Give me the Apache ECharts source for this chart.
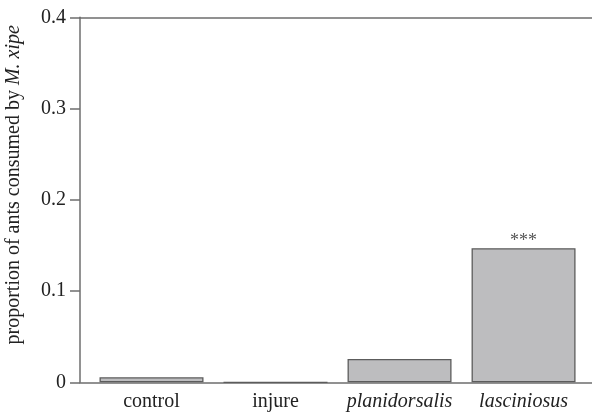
<!DOCTYPE html>
<html>
<head>
<meta charset="utf-8">
<script src="https://cdn.jsdelivr.net/npm/echarts@6/dist/echarts.min.js"></script>
<style>html,body{margin:0;padding:0;background:#fff}#c{width:592px;height:412px}</style>
</head>
<body>
<div id="c"></div>
<script>
var categories = ['control', 'injure', 'planidorsalis', 'lasciniosus'];
var italicCats = [false, false, true, true];
var proportions = [0.0055, 0, 0.0255, 0.147];
var significance = ['', '', '', '***'];
var yTicks = [0, 0.1, 0.2, 0.3, 0.4];

var FONT = '"Liberation Serif", "DejaVu Serif", serif';
var AX = '#6e6e6e';
var FS = 20;
var positions = categories.map(function (c, i) { return i; });

var chart = echarts.init(document.getElementById('c'), null, {renderer: 'canvas'});
chart.setOption({
  animation: false,
  backgroundColor: '#fff',
  grid: {left: 80, right: 0, top: 17.3, bottom: 29.7, containLabel: false, outerBoundsMode: 'none'},
  xAxis: [{
    type: 'value',
    min: -0.5766,
    max: 3.552,
    axisLine: {show: true, lineStyle: {color: AX, width: 1.5}},
    axisTick: {show: false},
    splitLine: {show: false},
    axisLabel: {
      customValues: positions,
      margin: 9,
      color: '#222',
      fontFamily: FONT,
      fontSize: FS,
      formatter: function (v) {
        var i = Math.round(v);
        return italicCats[i] ? '{i|' + categories[i] + '}' : categories[i];
      },
      rich: {i: {fontStyle: 'italic', fontFamily: FONT, fontSize: FS, color: '#222'}}
    }
  }, {
    type: 'value',
    position: 'top',
    min: -0.5766,
    max: 3.552,
    axisLine: {show: true, lineStyle: {color: AX, width: 1.5}},
    axisTick: {show: false},
    axisLabel: {show: false},
    splitLine: {show: false}
  }],
  yAxis: {
    type: 'value',
    min: yTicks[0],
    max: yTicks[yTicks.length - 1],
    interval: 0.1,
    axisLine: {show: true, onZero: false, lineStyle: {color: AX, width: 1.5}},
    axisTick: {show: true, inside: false, length: 10, lineStyle: {color: AX, width: 1.5}},
    splitLine: {show: false},
    axisLabel: {margin: 14, color: '#222', fontFamily: FONT, fontSize: FS},
    name: 'proportion of ants consumed by {i|M. xipe}',
    nameLocation: 'middle',
    nameGap: 56,
    nameTextStyle: {
      color: '#222', fontFamily: FONT, fontSize: FS, padding: [0, 0, 0, 30],
      rich: {i: {fontStyle: 'italic', fontFamily: FONT, fontSize: FS, color: '#222'}}
    }
  },
  series: [{
    type: 'bar',
    barWidth: 104,
    data: proportions.map(function (v, i) { return [positions[i], v]; }),
    itemStyle: {color: '#bdbdbf', borderColor: '#5c5c5c', borderWidth: 1.3},
    label: {
      show: true,
      position: 'top',
      distance: -2,
      color: '#555',
      fontFamily: FONT,
      fontSize: 18,
      formatter: function (p) { return significance[p.dataIndex]; }
    }
  }]
});
</script>
</body>
</html>
